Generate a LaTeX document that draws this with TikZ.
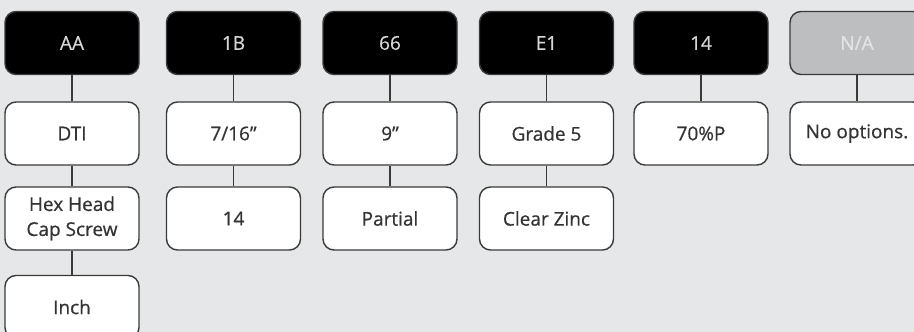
\documentclass[tikz,border=0pt]{standalone}
\usepackage{fontspec}
\setmainfont{Open Sans}[FakeBold=0.6]
\definecolor{bg}{HTML}{E6E7E8}
\definecolor{edge}{HTML}{3A3A3A}
\definecolor{hdtext}{HTML}{D6D6D6}
\definecolor{grayfill}{HTML}{BCBEC0}
\definecolor{graytext}{HTML}{E4E4E4}
\begin{document}
\begin{tikzpicture}[x=1pt,y=-1pt,
  box/.style={draw=edge, line width=1.4pt, rounded corners=11pt, minimum width=134pt, minimum height=63pt, align=center, inner sep=0pt, font=\fontsize{19}{25}\selectfont},
  head/.style={box, fill=black, text=hdtext},
  nahead/.style={box, fill=grayfill, text=graytext},
  opt/.style={box, fill=white, text=black!80},
  link/.style={draw=edge, line width=1.1pt}]
\fill[bg] (0,0) rectangle (914,332);
\useasboundingbox (0,0) rectangle (914,332);
% headers
\node[head] (h1) at (72,43) {AA};
\node[head] (h2) at (233.5,43) {1B};
\node[head] (h3) at (390,43) {66};
\node[head] (h4) at (546.5,43) {E1};
\node[head] (h5) at (701,43) {14};
\node[nahead] (h6) at (857,43) {N/A};
% row 1
\node[opt] (a1) at (72,133.5) {DTI};
\node[opt] (b1) at (233.5,133.5) {7/16”};
\node[opt] (c1) at (390,133.5) {9”};
\node[opt] (d1) at (546.5,133.5) {Grade 5};
\node[opt] (e1) at (701,133.5) {70\%P};
\node[opt] (f1) at (857,133.5) {No options.};
% row 2
\node[opt] (a2) at (72,218.5) {Hex Head\\Cap Screw};
\node[opt] (b2) at (233.5,218.5) {14};
\node[opt] (c2) at (390,218.5) {Partial};
\node[opt] (d2) at (546.5,218.5) {Clear Zinc};
% row 3
\node[opt] (a3) at (72,307) {Inch};
% connectors
\foreach \u/\v in {h1/a1,a1/a2,a2/a3,h2/b1,b1/b2,h3/c1,c1/c2,h4/d1,d1/d2,h5/e1,h6/f1}
  \path[link] (\u.south) -- (\v.north);
\end{tikzpicture}
\end{document}
